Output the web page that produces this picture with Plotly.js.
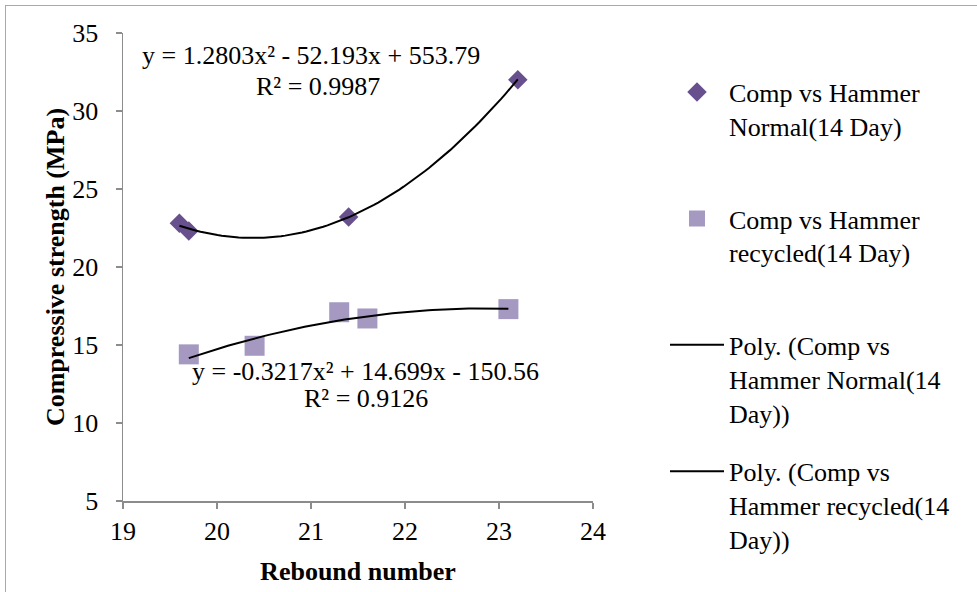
<!DOCTYPE html>
<html>
<head>
<meta charset="utf-8">
<script src="https://cdn.plot.ly/plotly-3.0.1.min.js"></script>
<style>
  html, body { margin: 0; padding: 0; background: #fff; }
  #wrap { position: relative; width: 977px; height: 592px; overflow: hidden; }
  #chart { position: absolute; left: 0; top: 0; width: 977px; height: 592px; }
  #frame { position: absolute; left: 5px; top: 5px; width: 990px; height: 620px; border-left: 1.5px solid #a8a8a8; border-top: 1.5px solid #a8a8a8; pointer-events: none; }
</style>
</head>
<body>
<div id="wrap"><div id="chart"></div><div id="frame"></div></div>
<script>
// Data
var normalX = [19.6, 19.7, 21.4, 23.2];
var normalY = [22.8, 22.3, 23.2, 32.0];
var recycledX = [19.7, 20.4, 21.3, 21.6, 23.1];
var recycledY = [14.4, 14.95, 17.1, 16.7, 17.3];

// Trendline coefficients as printed on the chart (a, b, c for ax^2 + bx + c)
var normalFit = [1.2803, -52.193, 553.79];
var recycledFit = [-0.3217, 14.699, -150.56];
var normalR2 = "0.9987";
var recycledR2 = "0.9126";

var seriesNames = [
  "Comp vs Hammer<br>Normal(14 Day)<br> ",
  "Comp vs Hammer<br>recycled(14 Day)<br> ",
  "Poly. (Comp vs<br>Hammer Normal(14<br>Day))",
  "Poly. (Comp vs<br>Hammer recycled(14<br>Day))"
];
var xTicks = [19, 20, 21, 22, 23, 24];
var yTicks = [5, 10, 15, 20, 25, 30, 35];

function trend(coef, xs) {
  var lo = Math.min.apply(null, xs), hi = Math.max.apply(null, xs);
  var px = [], py = [];
  var n = 80;
  for (var i = 0; i <= n; i++) {
    var x = lo + (hi - lo) * i / n;
    px.push(x);
    py.push(coef[0] * x * x + coef[1] * x + coef[2]);
  }
  return {x: px, y: py};
}
function eqText(coef) {
  function term(v, first) {
    var s = Math.abs(v).toString();
    if (first) return (v < 0 ? "-" : "") + s;
    return (v < 0 ? " - " : " + ") + s;
  }
  return "y = " + term(coef[0], true) + "x²" + term(coef[1]) + "x" + term(coef[2]);
}

var tn = trend(normalFit, normalX);
var tr = trend(recycledFit, recycledX);

var FONT = "Liberation Serif, serif";
var FS = 26;

var traces = [
  {x: normalX, y: normalY, type: "scatter", mode: "markers", name: seriesNames[0], legendgroup: "a",
   marker: {symbol: "diamond", size: 15, color: "#68508f"}},
  {x: recycledX, y: recycledY, type: "scatter", mode: "markers", name: seriesNames[1], legendgroup: "b",
   marker: {symbol: "square", size: 20, color: "#a599c1"}},
  {x: tn.x, y: tn.y, type: "scatter", mode: "lines", name: seriesNames[2], legendgroup: "c",
   line: {color: "#000000", width: 2}},
  {x: tr.x, y: tr.y, type: "scatter", mode: "lines", name: seriesNames[3], legendgroup: "d",
   line: {color: "#000000", width: 2}}
];

var layout = {
  width: 977, height: 592,
  margin: {l: 123, r: 384, t: 33, b: 91, autoexpand: false},
  paper_bgcolor: "rgba(0,0,0,0)",
  plot_bgcolor: "#ffffff",
  font: {family: FONT, size: FS, color: "#000000"},
  showlegend: true,
  legend: {
    x: 1.1532, xanchor: "left", yref: "container", y: 0.884, yanchor: "top",
    font: {family: FONT, size: FS, color: "#000"},
    valign: "top", itemwidth: 54, tracegroupgap: 22, maxheight: 600,
    bgcolor: "rgba(0,0,0,0)"
  },
  xaxis: {
    range: [19, 24], tickvals: xTicks, ticktext: xTicks.map(String),
    showgrid: false, zeroline: false, showline: true, linecolor: "#8c8c8c", linewidth: 1.5,
    ticks: "outside", ticklen: 6, tickcolor: "#8c8c8c", tickwidth: 1.5,
    tickfont: {family: FONT, size: FS, color: "#000"},
    title: {text: "<b>Rebound number</b>", font: {family: FONT, size: FS, color: "#000"}, standoff: 17}
  },
  yaxis: {
    range: [5, 35], tickvals: yTicks, ticktext: yTicks.map(String),
    showgrid: false, zeroline: false, showline: true, linecolor: "#8c8c8c", linewidth: 1.5,
    ticks: "outside", ticklen: 6, tickcolor: "#8c8c8c", tickwidth: 1.5,
    tickfont: {family: FONT, size: FS, color: "#000"}, ticklabelstandoff: 12,
    title: {text: "<b>Compressive strength (MPa)</b>", font: {family: FONT, size: FS, color: "#000"}, standoff: 0}
  },
  annotations: [
    {x: 21.005, y: 33.53, xref: "x", yref: "y", text: eqText(normalFit), showarrow: false,
     font: {family: FONT, size: FS, color: "#000"}},
    {x: 21.07, y: 31.6, xref: "x", yref: "y", text: "R² = " + normalR2, showarrow: false,
     font: {family: FONT, size: FS, color: "#000"}},
    {x: 21.585, y: 13.3, xref: "x", yref: "y", text: eqText(recycledFit), showarrow: false,
     font: {family: FONT, size: FS, color: "#000"}},
    {x: 21.58, y: 11.6, xref: "x", yref: "y", text: "R² = " + recycledR2, showarrow: false,
     font: {family: FONT, size: FS, color: "#000"}}
  ]
};

Plotly.newPlot("chart", traces, layout, {staticPlot: true, displayModeBar: false});
</script>
</body>
</html>
